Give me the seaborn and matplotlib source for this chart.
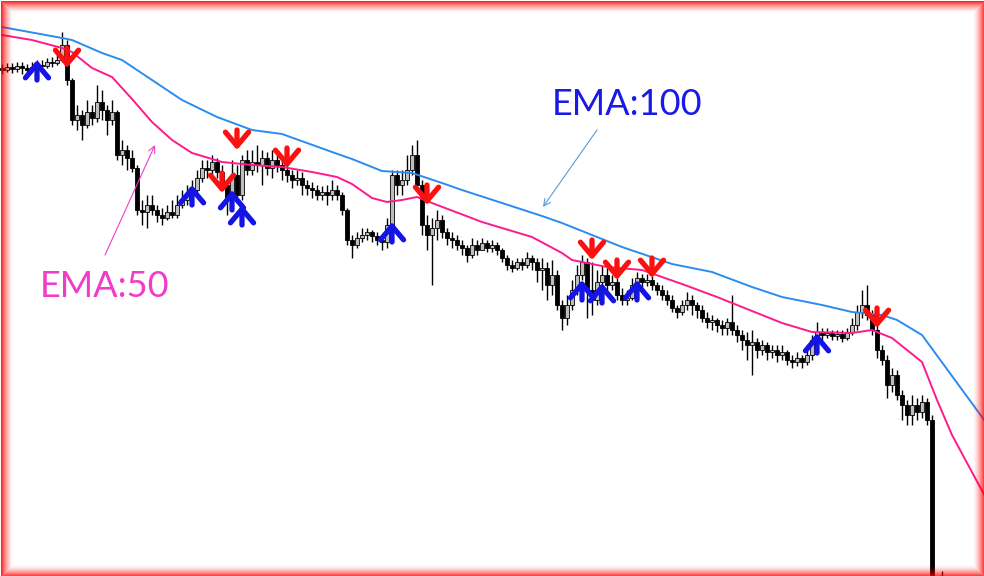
import numpy as np
import pandas as pd
import matplotlib
matplotlib.use("Agg")
import matplotlib.pyplot as plt
from matplotlib.patches import Rectangle
import seaborn as sns

# OHLC per bar (price points)
opens = [532, 530, 533, 531, 534, 532, 530, 533, 535, 534, 538, 537, 540, 555, 520, 480, 485, 475, 488, 482,
         498, 490, 480, 488, 445, 450, 442, 432, 390, 388, 395, 390, 385, 382, 388, 385, 395, 400, 405, 410,
         422, 432, 430, 438, 428, 415, 400, 425, 405, 440, 430, 438, 435, 442, 432, 440, 435, 430, 425, 420,
         422, 415, 412, 410, 405, 408, 405, 410, 405, 390, 360, 355, 362, 365, 368, 364, 360, 358, 375, 425,
         415, 420, 430, 445, 415, 375, 365, 372, 380, 368, 362, 360, 355, 352, 345, 355, 350, 357, 352, 355,
         350, 342, 335, 332, 338, 335, 342, 338, 330, 332, 315, 325, 295, 282, 295, 310, 325, 338, 310, 300,
         318, 325, 315, 318, 305, 300, 302, 315, 322, 318, 320, 315, 310, 305, 300, 292, 288, 295, 300, 295,
         290, 282, 278, 280, 275, 272, 278, 270, 265, 260, 255, 258, 250, 255, 248, 250, 245, 248, 240, 238,
         242, 238, 245, 260, 268, 265, 267, 264, 266, 262, 268, 275, 288, 295, 285, 270, 250, 240, 215, 225,
         205, 195, 185, 195, 188, 198, 180, -40, -50]
highs = [536, 537, 537, 538, 538, 536, 538, 540, 540, 542, 543, 545, 568, 560, 522, 495, 490, 500, 495, 515,
         510, 495, 500, 490, 460, 455, 450, 435, 400, 405, 405, 395, 392, 395, 400, 405, 410, 415, 420, 430,
         440, 440, 445, 442, 435, 420, 440, 435, 445, 450, 450, 455, 450, 448, 450, 445, 440, 435, 430, 430,
         428, 420, 418, 415, 414, 415, 420, 415, 408, 392, 365, 368, 372, 372, 370, 368, 365, 382, 430, 430,
         430, 445, 455, 460, 420, 385, 382, 390, 385, 372, 368, 365, 360, 355, 362, 360, 362, 360, 360, 358,
         352, 345, 340, 342, 342, 348, 345, 342, 342, 338, 340, 330, 300, 305, 320, 335, 345, 342, 338, 330,
         335, 332, 325, 322, 312, 310, 322, 328, 326, 326, 324, 318, 315, 310, 305, 295, 300, 308, 305, 298,
         295, 288, 285, 282, 280, 282, 305, 275, 270, 268, 270, 262, 260, 258, 255, 255, 255, 250, 245, 248,
         245, 255, 265, 278, 272, 272, 270, 270, 270, 272, 282, 295, 310, 315, 290, 275, 255, 245, 232, 230,
         210, 200, 205, 202, 205, 202, 185, 0, 29]
lows = [526, 528, 527, 528, 526, 527, 528, 530, 530, 532, 533, 535, 538, 515, 475, 470, 460, 472, 475, 478,
        480, 465, 475, 440, 435, 430, 428, 385, 375, 372, 385, 378, 375, 380, 382, 382, 392, 395, 402, 405,
        418, 422, 425, 422, 410, 385, 395, 400, 400, 425, 425, 428, 415, 425, 422, 428, 420, 418, 412, 415,
        405, 405, 402, 400, 400, 395, 400, 400, 385, 355, 342, 352, 358, 360, 358, 355, 350, 352, 370, 405,
        405, 415, 425, 410, 365, 350, 315, 360, 362, 355, 352, 350, 345, 338, 342, 345, 350, 348, 348, 345,
        338, 330, 328, 330, 330, 332, 330, 318, 310, 300, 305, 290, 270, 275, 290, 305, 320, 282, 285, 295,
        300, 308, 310, 300, 295, 295, 300, 310, 312, 314, 310, 305, 300, 295, 288, 282, 285, 290, 285, 282,
        278, 272, 270, 268, 265, 265, 265, 258, 250, 240, 225, 242, 245, 240, 242, 238, 240, 235, 232, 234,
        232, 235, 240, 255, 260, 262, 260, 260, 258, 260, 265, 270, 282, 280, 265, 242, 235, 202, 208, 200,
        180, 175, 175, 180, 182, 175, -50, -80, -60]
closes = [530, 533, 531, 534, 532, 530, 533, 535, 534, 538, 537, 540, 555, 520, 480, 485, 475, 488, 482, 498,
          490, 480, 488, 445, 450, 442, 432, 390, 388, 395, 390, 385, 382, 388, 385, 395, 400, 405, 410, 422,
          432, 430, 438, 428, 415, 400, 425, 405, 440, 430, 438, 435, 442, 432, 440, 435, 430, 425, 420, 422,
          415, 412, 410, 405, 408, 405, 410, 405, 390, 360, 355, 362, 365, 368, 364, 360, 358, 375, 425, 415,
          420, 430, 445, 415, 375, 365, 372, 380, 368, 362, 360, 355, 352, 345, 355, 350, 357, 352, 355, 350,
          342, 335, 332, 338, 335, 342, 338, 330, 332, 315, 325, 295, 282, 295, 310, 325, 338, 310, 300, 318,
          325, 315, 318, 305, 300, 302, 315, 322, 318, 320, 315, 310, 305, 300, 292, 288, 295, 300, 295, 290,
          282, 278, 280, 275, 272, 278, 270, 265, 260, 255, 258, 250, 255, 248, 250, 245, 248, 240, 238, 242,
          238, 245, 260, 268, 265, 267, 264, 266, 262, 268, 275, 288, 295, 285, 270, 250, 240, 215, 225, 205,
          195, 185, 195, 188, 198, 180, -40, -50, -20]

# moving averages (bar, value)
ema50_bars = [0, 6, 12, 14, 18, 22, 26, 30, 34, 38, 44, 50, 56, 62, 67, 70, 74, 77, 80, 83, 86, 96, 106,
              112, 114, 121, 128, 136, 143, 150, 156, 162, 170, 174, 178, 184, 187, 190, 197]
ema50 = [565, 560, 552, 548, 532, 523, 501, 478, 460, 447, 438, 435, 433, 428, 423, 416, 402, 398, 400, 403,
         397, 378, 363, 347, 340, 333, 330, 316, 303, 289, 277, 268, 267, 270, 262, 238, 200, 165, 100]
ema100_bars = [0, 12, 14, 20, 24, 30, 36, 43, 50, 56, 66, 70, 76, 82, 88, 92, 108, 112, 124, 134, 142, 150,
               156, 164, 170, 176, 179, 184, 196, 197]
ema100 = [573, 562, 560, 547, 540, 520, 500, 483, 470, 466, 448, 441, 429, 427, 417, 410, 384, 377, 353, 336,
          328, 313, 303, 295, 288, 285, 280, 265, 183, 175]

# signals
buy_bars = [7, 38, 46, 48, 78, 116, 120, 127, 163]
buy_tips = [540, 415, 410, 395, 378, 320, 317, 320, 267]
sell_bars = [13, 44, 47, 57, 85, 118, 123, 130, 175]
sell_tips = [532, 407, 450, 432, 395, 340, 320, 322, 272]

sns.set_theme(style="white")

fig = plt.figure(figsize=(9.84, 5.76), dpi=100)
ax = fig.add_axes([0, 0, 1, 1])

o = np.array(opens, dtype=float)
h = np.array(highs, dtype=float)
l = np.array(lows, dtype=float)
c = np.array(closes, dtype=float)
x = np.arange(len(c))

# candles
ax.vlines(x, l, h, color="black", lw=1, zorder=2)
body = c - o
body = np.where(np.abs(body) < 1, 1, body)
fill = np.where(c >= o, "#bdbdbd", "black")
ax.bar(x, body, bottom=o, width=0.66, color=fill, edgecolor="black", linewidth=0.6, zorder=3)

# EMAs
df50 = pd.DataFrame({"bar": ema50_bars, "ema": ema50})
df100 = pd.DataFrame({"bar": ema100_bars, "ema": ema100})
sns.lineplot(data=df100, x="bar", y="ema", ax=ax, color="#2b8cf0", lw=1.4, zorder=4)
sns.lineplot(data=df50, x="bar", y="ema", ax=ax, color="#ff1a8c", lw=1.4, zorder=4)

# buy / sell arrows
ARROW_LEN = 20
astyle = "->,head_length=0.38,head_width=0.32"
for b, t in zip(buy_bars, buy_tips):
    ax.annotate("", xy=(b, t), xytext=(b, t - ARROW_LEN),
                arrowprops=dict(arrowstyle=astyle, color="#1414e6", lw=3.8,
                                mutation_scale=26, shrinkA=0, shrinkB=0), zorder=5)
for b, t in zip(sell_bars, sell_tips):
    ax.annotate("", xy=(b, t), xytext=(b, t + ARROW_LEN),
                arrowprops=dict(arrowstyle=astyle, color="#ff1010", lw=3.8,
                                mutation_scale=26, shrinkA=0, shrinkB=0), zorder=5)

# labels
ax.text(110, 485, "EMA:100", color="#1a1ae6", fontsize=26, family=["Lato", "DejaVu Sans"], zorder=6)
ax.annotate("", xy=(108.2, 393), xytext=(119, 470),
            arrowprops=dict(arrowstyle="->", color="#5b9bd5", lw=0.8, shrinkA=0, shrinkB=0))
ax.text(7.6, 303, "EMA:50", color="#f23cc8", fontsize=26, family=["Lato", "DejaVu Sans"], zorder=6)
ax.annotate("", xy=(30.6, 455), xytext=(20.6, 345),
            arrowprops=dict(arrowstyle="->", color="#f23cc8", lw=0.8, shrinkA=0, shrinkB=0))

ax.set_xlim(-0.4, 196.4)
ax.set_ylim(24, 600)
ax.axis("off")

# red glowing frame
W, H = 984, 576
for k in range(12):
    a = 0.85 * (1 - k / 12) ** 1.6
    fig.add_artist(Rectangle(((k + 0.5) / W, (k + 0.5) / H), 1 - (2 * k + 1) / W, 1 - (2 * k + 1) / H,
                             transform=fig.transFigure, fill=False, ec=(1, 0, 0, a), lw=0.72))

fig.savefig("out.png", dpi=100)
